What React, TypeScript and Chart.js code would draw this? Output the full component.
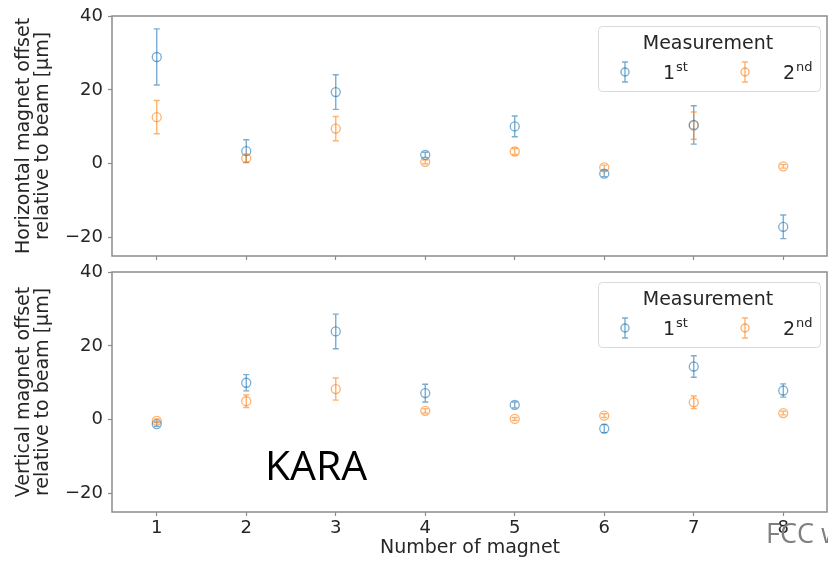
import { useEffect, useRef } from 'react';
import { Chart, registerables } from 'chart.js';

Chart.register(...registerables);

// Magnet index on the x axis
const MAGNETS = [1, 2, 3, 4, 5, 6, 7, 8];
const X_TICKS = [1, 2, 3, 4, 5, 6, 7, 8];
const Y_TICKS = [-20, 0, 20, 40];
const X_RANGE = [0.5, 8.5];
const Y_RANGE = [-25, 40];

// Horizontal offsets [µm] and their uncertainties
const H_FIRST = [28.9, 3.4, 19.4, 2.4, 10.1, -2.7, 10.5, -17.1];
const H_FIRST_ERR = [7.6, 3.1, 4.7, 0.7, 2.8, 0.8, 5.2, 3.2];
const H_SECOND = [12.6, 1.5, 9.5, 0.5, 3.3, -1.0, 10.3, -0.7];
const H_SECOND_ERR = [4.5, 1.0, 3.3, 0.5, 0.8, 0.6, 3.7, 0.5];

// Vertical offsets [µm] and their uncertainties
const V_FIRST = [-1.2, 10.0, 23.9, 7.2, 4.0, -2.4, 14.4, 7.9];
const V_FIRST_ERR = [0.6, 2.2, 4.7, 2.4, 0.8, 1.1, 2.9, 1.8];
const V_SECOND = [-0.3, 5.0, 8.3, 2.4, 0.2, 1.1, 4.7, 1.8];
const V_SECOND_ERR = [0.5, 1.7, 3.0, 0.6, 0.4, 0.5, 1.7, 0.5];

const SERIES_MAIN = ['1', '2'];
const SERIES_SUP = ['st', 'nd'];
const LEGEND_TITLE = 'Measurement';
const H_LABEL = ['Horizontal magnet offset', 'relative to beam [μm]'];
const V_LABEL = ['Vertical magnet offset', 'relative to beam [μm]'];
const X_LABEL = 'Number of magnet';
const FACILITY = 'KARA';
const FOOTER = 'FCC week';

const COLORS = ['rgba(31,119,180,0.6)', 'rgba(255,127,14,0.6)'];
const TEXT = '#262626';
const SPINE = '#8c8c8c';
const FONT = '"DejaVu Sans", sans-serif';

const W = 828;

function buildDatasets(first: number[], firstErr: number[], second: number[], secondErr: number[]) {
  return [
    [first, firstErr],
    [second, secondErr],
  ].map(([vals, errs], k) => ({
    label: SERIES_MAIN[k] + SERIES_SUP[k],
    data: MAGNETS.map((m, i) => ({ x: m, y: vals[i] })),
    errors: errs,
    borderColor: COLORS[k],
    backgroundColor: 'rgba(0,0,0,0)',
    pointRadius: 4.5,
    pointBorderWidth: 1.3,
    pointStyle: 'circle',
    showLine: false,
  }));
}

// Vertical error bars with caps, drawn through the library's scales
const errorBars = {
  id: 'errorBars',
  beforeDatasetsDraw(chart: any) {
    const { ctx, scales } = chart;
    const xs = scales.x;
    const ys = scales.y;
    chart.data.datasets.forEach((ds: any) => {
      ctx.save();
      ctx.strokeStyle = ds.borderColor;
      ctx.lineWidth = 1.4;
      ds.data.forEach((p: any, i: number) => {
        const e = ds.errors[i];
        const px = xs.getPixelForValue(p.x);
        const lo = ys.getPixelForValue(p.y - e);
        const hi = ys.getPixelForValue(p.y + e);
        ctx.beginPath();
        ctx.moveTo(px, lo);
        ctx.lineTo(px, hi);
        ctx.moveTo(px - 3, lo);
        ctx.lineTo(px + 3, lo);
        ctx.moveTo(px - 3, hi);
        ctx.lineTo(px + 3, hi);
        ctx.stroke();
      });
      ctx.restore();
    });
  },
};

// Full box around the plotting area
const frame = {
  id: 'frame',
  afterDatasetsDraw(chart: any) {
    const { ctx, chartArea: a } = chart;
    ctx.save();
    ctx.strokeStyle = SPINE;
    ctx.lineWidth = 1.5;
    ctx.strokeRect(a.left, a.top, a.right - a.left - 1, a.bottom - a.top);
    ctx.restore();
  },
};

// Boxed legend with a title and error-bar glyphs
const panelLegend = {
  id: 'panelLegend',
  afterDraw(chart: any) {
    const { ctx, chartArea: a } = chart;
    const w = 222;
    const h = 65;
    const x0 = a.right - 230;
    const y0 = a.top + 10;
    ctx.save();
    ctx.fillStyle = 'rgba(255,255,255,0.85)';
    ctx.strokeStyle = '#d9d9d9';
    ctx.lineWidth = 1;
    ctx.beginPath();
    ctx.roundRect(x0 + 0.5, y0 + 0.5, w, h, 4);
    ctx.fill();
    ctx.stroke();

    ctx.fillStyle = TEXT;
    ctx.textBaseline = 'alphabetic';
    ctx.textAlign = 'center';
    ctx.font = `19px ${FONT}`;
    ctx.fillText(LEGEND_TITLE, x0 + 110, y0 + 23);

    const markerX = [x0 + 27, x0 + 147];
    const textX = [x0 + 65, x0 + 185];
    const cy = y0 + 46;
    const base = y0 + 53;
    chart.data.datasets.forEach((ds: any, k: number) => {
      const mx = markerX[k];
      ctx.strokeStyle = ds.borderColor;
      ctx.lineWidth = 1.4;
      ctx.beginPath();
      ctx.moveTo(mx, cy - 10);
      ctx.lineTo(mx, cy + 10);
      ctx.moveTo(mx - 3, cy - 10);
      ctx.lineTo(mx + 3, cy - 10);
      ctx.moveTo(mx - 3, cy + 10);
      ctx.lineTo(mx + 3, cy + 10);
      ctx.stroke();
      ctx.beginPath();
      ctx.arc(mx, cy, 4, 0, Math.PI * 2);
      ctx.stroke();

      ctx.fillStyle = TEXT;
      ctx.textAlign = 'left';
      ctx.font = `19px ${FONT}`;
      ctx.fillText(SERIES_MAIN[k], textX[k], base);
      const mw = ctx.measureText(SERIES_MAIN[k]).width;
      ctx.font = `13px ${FONT}`;
      ctx.fillText(SERIES_SUP[k], textX[k] + mw + 1, base - 8);
    });
    ctx.restore();
  },
};

// Slide annotations on the lower panel
const annotations = {
  id: 'annotations',
  afterDraw(chart: any) {
    const { ctx } = chart;
    ctx.save();
    ctx.textAlign = 'left';
    ctx.textBaseline = 'alphabetic';
    ctx.fillStyle = '#000000';
    ctx.font = '41px "Open Sans", sans-serif';
    ctx.fillText(FACILITY, 265, 224);
    ctx.fillStyle = '#7f7f7f';
    ctx.font = '27px "Open Sans", sans-serif';
    ctx.fillText(FOOTER, 766, 287);
    ctx.restore();
  },
};

function formatTick(v: number) {
  return v < 0 ? '\u2212' + Math.abs(v) : String(v);
}

function makeOptions(yLabel: string[], showX: boolean, xHeight: number) {
  return {
    animation: false,
    responsive: false,
    maintainAspectRatio: false,
    layout: { autoPadding: false, padding: { top: 16, left: 0, right: 0, bottom: 0 } },
    plugins: {
      legend: { display: false },
      tooltip: { enabled: false },
    },
    scales: {
      x: {
        type: 'linear',
        min: X_RANGE[0],
        max: X_RANGE[1],
        afterBuildTicks: (s: any) => {
          s.ticks = X_TICKS.map((v) => ({ value: v }));
        },
        afterFit: (s: any) => {
          s.height = xHeight;
        },
        border: { display: false },
        grid: {
          drawOnChartArea: false,
          drawTicks: true,
          tickLength: 4,
          tickColor: SPINE,
          tickWidth: 1.2,
        },
        ticks: {
          display: showX,
          autoSkip: false,
          maxRotation: 0,
          padding: 2,
          color: TEXT,
          font: { family: FONT, size: 18 },
          callback: (v: number) => formatTick(v),
        },
        title: {
          display: showX,
          text: X_LABEL,
          color: TEXT,
          font: { family: FONT, size: 19, lineHeight: 1 },
          padding: { top: 0, bottom: 3 },
        },
      },
      y: {
        type: 'linear',
        min: Y_RANGE[0],
        max: Y_RANGE[1],
        afterBuildTicks: (s: any) => {
          s.ticks = Y_TICKS.map((v) => ({ value: v }));
        },
        afterFit: (s: any) => {
          s.width = 112;
        },
        border: { display: false },
        grid: {
          drawOnChartArea: false,
          drawTicks: true,
          tickLength: 4,
          tickColor: SPINE,
          tickWidth: 1.2,
        },
        ticks: {
          padding: 5,
          color: TEXT,
          font: { family: FONT, size: 18 },
          callback: (v: number) => formatTick(v),
        },
        title: {
          display: true,
          text: yLabel,
          color: TEXT,
          font: { family: FONT, size: 19, lineHeight: 1 },
          padding: { top: 15, bottom: 0 },
        },
      },
    },
  };
}

export default function App() {
  const topRef = useRef<HTMLCanvasElement>(null);
  const bottomRef = useRef<HTMLCanvasElement>(null);

  useEffect(() => {
    const top = new Chart(topRef.current as HTMLCanvasElement, {
      type: 'scatter',
      data: { datasets: buildDatasets(H_FIRST, H_FIRST_ERR, H_SECOND, H_SECOND_ERR) as any },
      options: makeOptions(H_LABEL, false, 16) as any,
      plugins: [errorBars, frame, panelLegend],
    });
    const bottom = new Chart(bottomRef.current as HTMLCanvasElement, {
      type: 'scatter',
      data: { datasets: buildDatasets(V_FIRST, V_FIRST_ERR, V_SECOND, V_SECOND_ERR) as any },
      options: makeOptions(V_LABEL, true, 49) as any,
      plugins: [errorBars, frame, panelLegend, annotations],
    });
    return () => {
      top.destroy();
      bottom.destroy();
    };
  }, []);

  return (
    <div
      style={{
        position: 'fixed',
        left: 0,
        top: 0,
        width: W,
        height: 561,
        overflow: 'hidden',
        background: '#ffffff',
      }}
    >
      <canvas ref={topRef} width={W} height={272} style={{ position: 'absolute', left: 0, top: 0 }} />
      <canvas ref={bottomRef} width={W} height={305} style={{ position: 'absolute', left: 0, top: 256 }} />
    </div>
  );
}
